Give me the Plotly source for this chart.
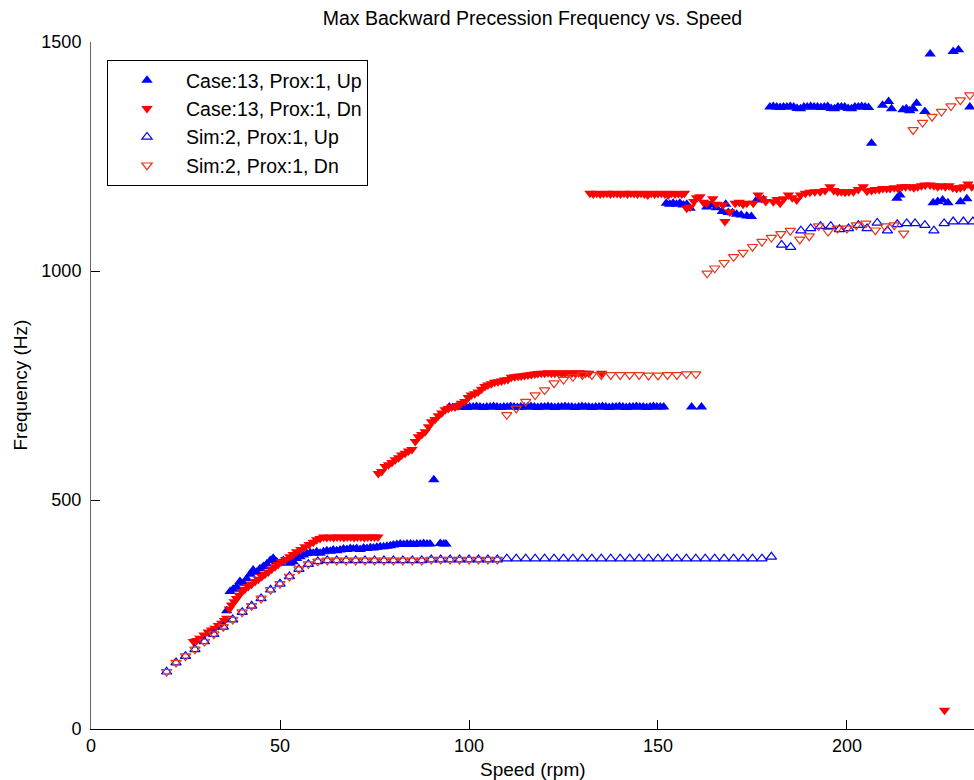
import plotly.graph_objects as go

# ---------------- data ----------------
CASE_UP_X = [35.9, 36.8, 37.6, 38.5, 39.4, 40.3, 41.2, 42.1, 42.9, 43.8, 44.7, 45.6, 46.5, 47.4, 48.2, 49.1,
             50.0, 50.9, 51.8, 52.7, 53.5, 54.4, 55.3, 56.2, 57.1, 58.0, 58.8, 59.7, 60.6, 61.5, 62.4, 63.3,
             64.1, 65.0, 65.9, 66.8, 67.7, 68.6, 69.4, 70.3, 71.2, 72.1, 73.0, 73.9, 74.7, 75.6, 76.5, 77.4,
             78.3, 79.2, 80.0, 80.9, 81.8, 82.7, 83.6, 84.5, 85.3, 86.2, 87.1, 88.0, 88.9, 89.7, 92.4, 93.3,
             93.9,
             90.7,
             94.8, 95.7, 96.6, 97.5, 98.4, 99.3, 100.2, 101.1, 102.0, 102.9, 103.8, 104.7, 105.6, 106.5, 107.4,
             108.3, 109.2, 110.1, 111.0, 111.9, 112.8, 113.7, 114.6, 115.5, 116.4, 117.3, 118.2, 119.1, 120.0,
             120.9, 121.8, 122.7, 123.6, 124.5, 125.4, 126.3, 127.2, 128.1, 129.0, 129.9, 130.8, 131.7, 132.6,
             133.5, 134.4, 135.3, 136.2, 137.1, 138.0, 138.9, 139.8, 140.7, 141.6, 142.5, 143.4, 144.3, 145.2,
             146.1, 147.0, 147.9, 148.8, 149.7, 150.6, 151.5, 158.9, 161.5, 167.9,
             152.2, 153.1, 154.0, 154.9, 155.8, 156.7, 157.6, 158.5, 162.9, 164.3, 165.5, 167.0, 168.6, 169.7,
             170.8, 172.0, 173.5, 174.7, 176.1, 177.9, 213.2, 214.0, 222.8, 224.0, 225.3, 226.7, 230.0, 231.7,
             232.5,
             179.6, 180.5, 181.4, 182.3, 183.2, 184.1, 185.0, 185.9, 186.8, 187.7, 188.6, 189.5, 190.4, 191.3,
             192.2, 193.1, 194.0, 194.9, 195.8, 196.7, 197.6, 198.5, 199.4, 200.3, 201.2, 202.1, 203.0, 203.9,
             204.8, 205.7, 206.5, 209.4, 211.0, 211.8, 214.8, 215.7, 216.6, 217.5, 218.4, 220.6, 222.0, 228.1,
             229.5, 233.0]
CASE_UP_Y = [258, 300, 305, 310, 322, 318, 328, 338, 347, 342, 350, 355, 360, 368, 373, 365,
             362, 368, 366, 362, 365, 372, 376, 380, 383, 385, 384, 387, 384, 387, 389, 388,
             391, 389, 391, 393, 392, 394, 393, 394, 392, 395, 394, 396, 395, 397, 398, 398,
             399, 400, 402, 403, 404, 403, 404, 404, 403, 404, 404, 405, 404, 404, 405, 404,
             404,
             544,
             703, 702, 703, 704, 703, 702, 703, 703, 704, 703, 702, 703, 703, 704, 703,
             702, 703, 703, 704, 703, 702, 703, 703, 703, 704, 703, 702, 703, 703,
             704, 703, 702, 703, 703, 704, 703, 703, 702, 703, 704, 703, 703, 702,
             703, 703, 704, 703, 702, 703, 703, 704, 703, 702, 703, 703, 704, 703,
             703, 702, 703, 704, 703, 703, 703, 703, 703,
             1146, 1148, 1146, 1148, 1146, 1148, 1144, 1146, 1137, 1140, 1144, 1138, 1130, 1128,
             1127, 1124, 1122, 1120, 1119, 1155, 1156, 1159, 1166, 1149, 1152, 1155, 1149, 1151,
             1158,
             1358, 1358, 1359, 1358, 1357, 1358, 1358, 1359, 1358, 1355, 1354, 1358, 1358, 1359,
             1358, 1358, 1357, 1358, 1359, 1355, 1354, 1358, 1358, 1358, 1355, 1354, 1358, 1358,
             1359, 1358, 1357, 1279, 1362, 1370, 1354, 1352, 1354, 1350, 1354, 1366, 1348, 1474,
             1479, 1483]

CASE_DN_X = [27.1, 28.0, 28.8, 29.9, 31.0, 31.9, 32.8, 33.7, 34.6, 35.3, 35.9, 36.6, 37.2, 37.9, 38.5, 39.2,
             39.9, 40.7, 41.6, 42.5, 43.4, 44.3, 45.2, 46.0, 46.9, 47.8, 48.7, 49.5, 50.4, 51.5, 52.6, 53.5,
             54.4, 55.5, 56.6, 57.7, 58.8, 59.7, 60.6, 61.5, 62.4, 63.3, 64.2, 65.1, 66.0, 66.9, 67.8, 68.7,
             69.6, 70.5, 71.4, 72.3, 73.2, 74.1, 75.0, 75.9,
             76.0, 76.9, 77.8, 78.7, 79.6, 80.5, 81.4, 82.2, 83.1, 84.0, 84.9, 85.8, 86.6, 87.5, 88.4, 89.3,
             90.1, 91.0, 91.9, 92.8, 93.7, 94.5, 95.4, 96.3, 97.2, 98.0, 98.9, 99.8, 100.6, 101.5, 102.4, 103.3,
             104.2, 105.0, 105.9, 106.8, 107.7, 108.6, 109.4, 110.3, 111.2, 112.1, 113.0, 113.8, 114.7, 115.6,
             116.5, 117.4, 118.2, 119.1, 120.0, 120.9, 121.8, 122.7, 123.6, 124.5, 125.4, 126.3, 127.2, 128.1,
             129.0, 129.9, 130.8, 131.7, 135.1,
             132.0, 132.9, 133.8, 134.7, 135.6, 136.5, 137.4, 138.3, 139.2, 140.1, 141.0, 141.9, 142.8, 143.7,
             144.6, 145.5, 146.4, 147.3, 148.2, 149.1, 150.0, 150.9, 151.8, 152.7, 153.6, 154.5, 155.4, 156.3,
             157.0, 157.6, 158.5, 159.5, 160.2, 161.1, 162.0, 162.9, 164.5, 165.5, 167.2, 167.7, 169.0, 170.4,
             171.5, 172.5, 173.5, 175.2, 176.5, 177.5, 178.5, 180.5, 181.5, 182.3, 183.3, 184.5, 185.5, 186.7,
             187.7, 189.0, 190.2, 191.5, 192.9, 194.2, 195.5, 196.5, 197.5, 198.5, 199.5, 200.5, 201.7, 203.0,
             204.3, 205.3, 206.5, 207.5, 208.5, 209.5, 210.5, 211.4, 212.5, 213.5, 214.5, 215.5, 216.7, 217.7,
             218.7, 219.7, 220.7, 222.0, 223.0, 224.0, 225.0, 226.0, 227.0, 228.0, 229.0, 230.0, 231.0, 232.0,
             233.0, 225.8]
CASE_DN_Y = [191, 193, 198, 205, 212, 216, 220, 226, 231, 237, 242, 262, 271, 278, 285, 292,
             300, 305, 311, 316, 322, 327, 333, 338, 343, 349, 354, 359, 365, 370, 376, 381,
             387, 392, 398, 403, 408, 413, 416, 419, 418, 419, 418, 419, 419, 418, 419, 419,
             418, 419, 419, 418, 419, 419, 419, 419,
             558, 562, 573, 577, 582, 588, 592, 598, 602, 607, 610, 628, 638, 643, 649, 660,
             671, 676, 684, 690, 697, 700, 703, 703, 706, 711, 715, 724, 729, 732, 736, 742,
             748, 751, 754, 757, 758, 760, 762, 763, 768, 769, 770, 771, 772, 773,
             774, 775, 776, 777, 777, 778, 777, 777, 778, 777, 777, 778, 777, 777,
             778, 777, 777, 777, 777,
             1170, 1168, 1170, 1168, 1169, 1170, 1168, 1170, 1169, 1168, 1170, 1168, 1170, 1169,
             1168, 1170, 1168, 1166, 1170, 1168, 1169, 1170, 1168, 1166, 1170, 1168, 1169, 1168,
             1170, 1137, 1140, 1152, 1160, 1162, 1150, 1148, 1158, 1146, 1144, 1108, 1129, 1148,
             1150, 1146, 1148, 1148, 1166, 1158, 1152, 1151, 1156, 1148, 1158, 1166, 1160, 1155,
             1166, 1170, 1172, 1173, 1173, 1176, 1184, 1176, 1173, 1173, 1172, 1173, 1173, 1178,
             1184, 1174, 1176, 1178, 1178, 1180, 1180, 1180, 1182, 1180, 1184, 1184, 1184, 1182,
             1184, 1186, 1188, 1188, 1186, 1184, 1186, 1184, 1186, 1182, 1180, 1182, 1184, 1190,
             1184, 41]

SIM_UP_X = [20, 22.5, 25, 27.5, 30, 32.5, 35, 37.5, 40, 42.5, 45, 47.5, 50, 52.5, 55, 57.5,
            60, 62.5, 65, 67.5, 70, 72.5, 75, 77.5, 80, 82.5, 85, 87.5, 90, 92.5, 95, 97.5,
            100, 102.5, 105, 107.5, 110, 112.5, 115, 117.5, 120, 122.5, 125, 127.5, 130, 132.5,
            135, 137.5, 140, 142.5, 145, 147.5, 150, 152.5, 155, 157.5, 160, 162.5, 165, 167.5,
            170, 172.5, 175, 177.5, 180,
            182.7, 185.1, 187.8, 190.4, 193.0, 195.7, 198.0, 200.4, 203.0, 205.3, 208.0, 210.7,
            213.3, 215.8, 218.0, 220.6, 223.0, 225.7, 228.1, 230.8, 233.3]
SIM_UP_Y = [125, 145, 159, 174, 191, 207, 223, 239, 255, 269, 285, 304, 317, 333, 349, 360,
            366, 368, 368, 368, 368, 368, 368, 368, 368, 368, 368, 368, 370, 370, 370, 370,
            370, 370, 370, 370, 372, 372, 372, 372, 372, 372, 372, 372, 372, 372,
            372, 372, 372, 372, 372, 372, 372, 372, 372, 372, 372, 372, 372, 372,
            372, 372, 372, 372, 376,
            1057, 1052, 1088, 1093, 1098, 1098, 1091, 1093, 1100, 1093, 1105, 1088,
            1102, 1104, 1104, 1100, 1088, 1104, 1108, 1108, 1108]

SIM_DN_X = [20, 22.5, 25, 27.5, 30, 32.5, 35, 37.5, 40, 42.5, 45, 47.5, 50, 52.5, 55, 57.5,
            60, 62.5, 65, 67.5, 70, 72.5, 75, 77.5, 80, 82.5, 85, 87.5, 90, 92.5, 95, 97.5,
            100, 102.5, 105, 107.5,
            110, 112.5, 115, 117.5, 120, 122.5, 125, 127.5, 130, 132.5, 135, 137.5, 140, 142.5,
            145, 147.5, 150, 152.5, 155, 157.5, 160,
            163, 165, 167.5, 170, 172.5, 175, 177.5, 180, 182.5, 185, 187.5, 190, 192.5, 195,
            197.5, 200, 202.5, 205, 207.5, 210, 212.5, 215, 217.5, 220, 222.5, 225, 227.5, 230, 232.5]
SIM_DN_Y = [125, 145, 159, 174, 191, 207, 223, 239, 255, 269, 285, 304, 317, 333, 349, 360,
            366, 368, 368, 368, 368, 368, 368, 368, 368, 368, 368, 368, 370, 370, 370, 370,
            370, 370, 370, 370,
            686, 700, 715, 729, 740, 755, 763, 769, 773, 773, 773, 773, 773, 773,
            773, 772, 772, 773, 773, 775, 775,
            995, 1006, 1018, 1031, 1040, 1053, 1064, 1073, 1081, 1088, 1069, 1076, 1098, 1086,
            1093, 1093, 1100, 1104, 1089, 1098, 1100, 1082, 1308, 1324, 1337, 1348, 1360, 1373, 1384]

X_TICKS = [0, 50, 100, 150, 200]
Y_TICKS = [0, 500, 1000, 1500]

FONT = "Liberation Sans, Arial, Helvetica, sans-serif"

fig = go.Figure()
fig.add_trace(go.Scatter(x=CASE_UP_X, y=CASE_UP_Y, mode="markers", name="Case:13, Prox:1, Up",
                         legendgroup="a",
                         marker=dict(symbol="triangle-up", size=10, color="#0000FF", line=dict(width=0))))
fig.add_trace(go.Scatter(x=CASE_DN_X, y=CASE_DN_Y, mode="markers", name="Case:13, Prox:1, Dn",
                         legendgroup="b",
                         marker=dict(symbol="triangle-down", size=10, color="#FF0000", line=dict(width=0))))
fig.add_trace(go.Scatter(x=SIM_UP_X, y=SIM_UP_Y, mode="markers", name="Sim:2, Prox:1, Up",
                         legendgroup="c",
                         marker=dict(symbol="triangle-up-open", size=9, color="#0000FF", line=dict(width=1.2))))
fig.add_trace(go.Scatter(x=SIM_DN_X, y=SIM_DN_Y, mode="markers", name="Sim:2, Prox:1, Dn",
                         legendgroup="d",
                         marker=dict(symbol="triangle-down-open", size=9, color="#E8361C", line=dict(width=1.2))))

W, H = 974, 780
L, T, B = 91, 42, 51
PW = W - L
PH = H - T - B

fig.update_layout(
    width=W, height=H,
    margin=dict(l=L, r=0, t=T, b=B, pad=0),
    paper_bgcolor="white", plot_bgcolor="white",
    font=dict(family=FONT, size=18, color="black"),
    title=dict(text="Max Backward Precession Frequency vs. Speed", x=0.5, xref="paper",
               y=1 - 18 / H, yanchor="middle", xanchor="center",
               font=dict(family=FONT, size=19.5, color="black")),
    showlegend=True,
    legend=dict(x=16 / PW, y=1 - 18 / PH, xanchor="left", yanchor="top",
                bgcolor="white", bordercolor="black", borderwidth=1,
                font=dict(family=FONT, size=19.5, color="black"),
                tracegroupgap=0, itemwidth=68),
    xaxis=dict(range=[0, 233.6], tickvals=X_TICKS, ticks="inside", ticklen=9, tickcolor="black",
               showline=True, linecolor="black", linewidth=1, showgrid=False, zeroline=False,
               mirror=False, tickfont=dict(family=FONT, size=18)),
    yaxis=dict(range=[0, 1500], tickvals=Y_TICKS, ticks="inside", ticklen=9, tickcolor="black",
               showline=True, linecolor="#666666", linewidth=1, showgrid=False, zeroline=False,
               mirror=False, tickfont=dict(family=FONT, size=18), ticklabelstandoff=5),
    annotations=[
        dict(text="Speed (rpm)", x=0.5, y=0, xref="paper", yref="paper", xanchor="center",
             yanchor="top", yshift=-28, showarrow=False, font=dict(family=FONT, size=19)),
        dict(text="Frequency (Hz)", x=0, y=0.5, xref="paper", yref="paper", xanchor="center",
             yanchor="middle", xshift=-71, textangle=-90, showarrow=False,
             font=dict(family=FONT, size=19)),
    ],
)

fig.write_html(
    "out.html",
    config={"displayModeBar": False},
    post_script="document.documentElement.style.overflow='hidden';"
                "document.body.style.margin='0';document.body.style.overflow='hidden';",
)
